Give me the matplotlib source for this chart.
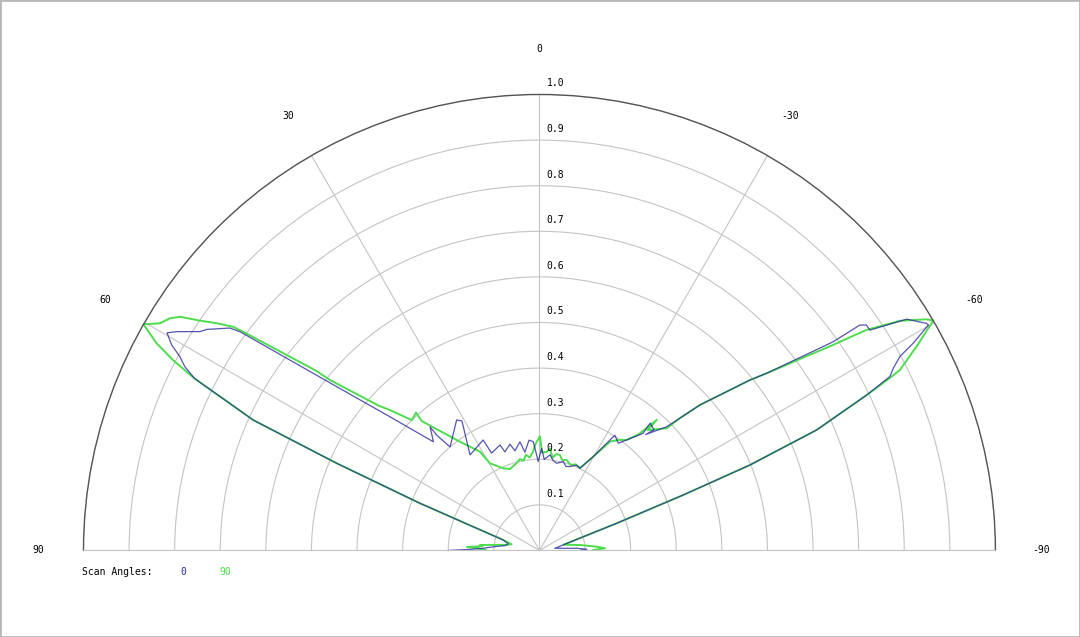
import numpy as np
import matplotlib
matplotlib.use("Agg")
import matplotlib.pyplot as plt
import matplotlib.patches as mpatches
from matplotlib.transforms import offset_copy

# scan angle 90 (green), angle in degrees (positive = left), normalised gain
GREEN_THETA = [89.5, 88.0, 87.2, 86.5, 85.5, 84.7, 83.0, 80.5, 77.4, 73.8, 69.6, 68.45,
               66.73, 65.5, 63.5, 62.54, 61.57, 60.27, 59.09, 57.85, 56.96, 55.9, 54.86,
               53.87, 53.57, 51.18, 50.86, 48.0, 46.8, 44.4, 41.8, 42.3, 36.15, 33.8,
               31.06, 29.6, 23.8, 20.0, 14.65, 12.0, 10.0, 8.0, 6.0, 3.76, 2.0, -0.25,
               -1.5, -4.2, -6.0, -8.0, -10.0, -12.1, -14.0, -16.7, -20.0, -23.0, -26.2,
               -29.8, -33.0, -36.0, -38.3, -40.5, -41.9, -42.0, -44.0, -46.15, -46.7,
               -47.8, -51.0, -52.05, -55.0, -56.0, -57.5, -59.16, -59.73, -61.6, -63.4,
               -63.8, -64.6, -66.5, -67.9, -68.9, -70.6, -76.5, -82.3, -86.2, -88.1, -89.5]
GREEN_R = [0.118, 0.135, 0.159, 0.14, 0.125, 0.131, 0.10, 0.075, 0.0625, 0.083, 0.186, 0.282,
           0.484, 0.69, 0.845, 0.906, 0.955, 1.0, 0.970, 0.957, 0.940, 0.899, 0.866,
           0.832, 0.808, 0.629, 0.592, 0.475, 0.45, 0.40, 0.406, 0.384, 0.295, 0.274,
           0.253, 0.22, 0.197, 0.19, 0.198, 0.205, 0.20, 0.212, 0.205, 0.217, 0.235, 0.25,
           0.215, 0.217, 0.225, 0.205, 0.215, 0.214, 0.205, 0.207, 0.20, 0.205, 0.201,
           0.237, 0.285, 0.30, 0.309, 0.335, 0.385, 0.355, 0.37, 0.387, 0.423,
           0.475, 0.594, 0.632, 0.786, 0.865, 0.9375, 0.989, 1.0, 0.94, 0.884,
           0.856, 0.794, 0.663, 0.498, 0.338, 0.18, 0.054, 0.0896, 0.126, 0.144, 0.118]

# scan angle 0 (blue)
BLUE_THETA = [90.0, 89.0, 87.5, 86.3, 84.0, 82.0, 78.0, 73.8, 69.6, 68.45, 66.73, 65.5,
              63.5, 62.6, 61.67, 60.8, 59.7, 58.9, 57.2, 56.4, 54.3, 53.85, 51.07, 48.2,
              44.3, 41.5, 41.7, 40.8, 32.4, 30.9, 36.0, 27.0, 26.2, 20.5, 19.3, 15.5,
              13.8, 10.2, 8.4, 5.4, 3.3, 2.0, 0.8, -1.2, -3.0, -6.3, -8.5, -11.2, -15.0,
              -17.5, -20.0, -23.5, -26.2, -29.8, -33.2, -36.3, -38.3, -41.5, -41.0, -43.5,
              -42.5, -45.8, -46.7, -47.8, -51.0, -52.05, -54.6, -54.87, -55.4, -56.3,
              -57.8, -59.6, -59.9, -61.0, -61.7, -62.75, -63.6, -64.6, -66.5, -67.9,
              -68.9, -70.6, -82.0, -86.6, -88.5, -89.8]
BLUE_R = [0.20, 0.15, 0.12, 0.109, 0.09, 0.076, 0.07, 0.083, 0.186, 0.282, 0.484, 0.69,
          0.845, 0.876, 0.896, 0.924, 0.946, 0.929, 0.886, 0.876, 0.836, 0.813, 0.572, 0.44,
          0.333, 0.362, 0.339, 0.30, 0.339, 0.331, 0.259, 0.272, 0.238, 0.247, 0.229, 0.242,
          0.225, 0.242, 0.218, 0.243, 0.239, 0.215, 0.195, 0.224, 0.20, 0.211, 0.20, 0.195, 0.202,
          0.193, 0.196, 0.204, 0.201, 0.237, 0.302, 0.292, 0.309, 0.343, 0.37, 0.365,
          0.345, 0.389, 0.423, 0.475, 0.594, 0.632, 0.790, 0.859, 0.871, 0.871,
          0.952, 0.984, 0.986, 0.937, 0.898, 0.873, 0.858, 0.794, 0.663, 0.498,
          0.338, 0.18, 0.034, 0.082, 0.104, 0.09]

RADIAL_TICKS = [0.1, 0.2, 0.3, 0.4, 0.5, 0.6, 0.7, 0.8, 0.9, 1.0]
ANGLE_TICKS = [90, 60, 30, 0, -30, -60, -90]
SCAN_LABELS = ["0", "90"]

BLUE = "#2a2a9c"
GREEN = "#4ddd4d"
GRID = "#c4c4c4"
FONT = "DejaVu Sans Mono"

fig = plt.figure(figsize=(10.8, 6.37), dpi=100)
# the half-disc wedge only uses the middle of the box vertically, so the box is made taller
ax = fig.add_axes([0.0773, -0.2221, 0.8444, 1.4317], projection="polar")
ax.set_aspect("auto")
ax.set_theta_zero_location("N")
ax.set_theta_direction(1)
ax.set_thetamin(-90)
ax.set_thetamax(90)
ax.set_rlim(0, 1)

ax.set_rticks(RADIAL_TICKS)
ax.set_yticklabels([])
ax.set_thetagrids(ANGLE_TICKS, labels=[""] * len(ANGLE_TICKS))
ax.tick_params(length=0)
ax.grid(True, color=GRID, lw=0.8)
ax.spines["polar"].set_color("#555555")
ax.spines["polar"].set_linewidth(1.0)
for s in ("start", "end", "inner"):
    ax.spines[s].set_color(GRID)
    ax.spines[s].set_linewidth(0.8)

ax.plot(np.deg2rad(GREEN_THETA), GREEN_R, color=GREEN, lw=1.4, clip_on=False)
ax.plot(np.deg2rad(BLUE_THETA), BLUE_R, color=BLUE, lw=0.9, alpha=0.8, clip_on=False)

for a in ANGLE_TICKS:
    ax.text(np.deg2rad(a), 1.1, str(a), ha="center", va="center",
            fontsize=7, family=FONT, clip_on=False)

trans = offset_copy(ax.transData, fig=fig, x=7, y=11, units="dots")
for r in RADIAL_TICKS:
    ax.text(0, r, f"{r:.1f}", transform=trans, ha="left", va="center",
            fontsize=7, family=FONT)

fig.text(82 / 1080, 1 - 572 / 637, "Scan Angles:", ha="left", va="center",
         fontsize=7, family=FONT)
fig.text(183 / 1080, 1 - 572 / 637, SCAN_LABELS[0], ha="center", va="center",
         fontsize=7, family=FONT, color=BLUE)
fig.text(225 / 1080, 1 - 572 / 637, SCAN_LABELS[1], ha="center", va="center",
         fontsize=7, family=FONT, color=GREEN)

fig.patches.append(mpatches.Rectangle((0, 0), 1, 1, transform=fig.transFigure,
                                      fill=False, edgecolor="#b8b8b8", lw=2))

fig.savefig("out.png", dpi=100)
